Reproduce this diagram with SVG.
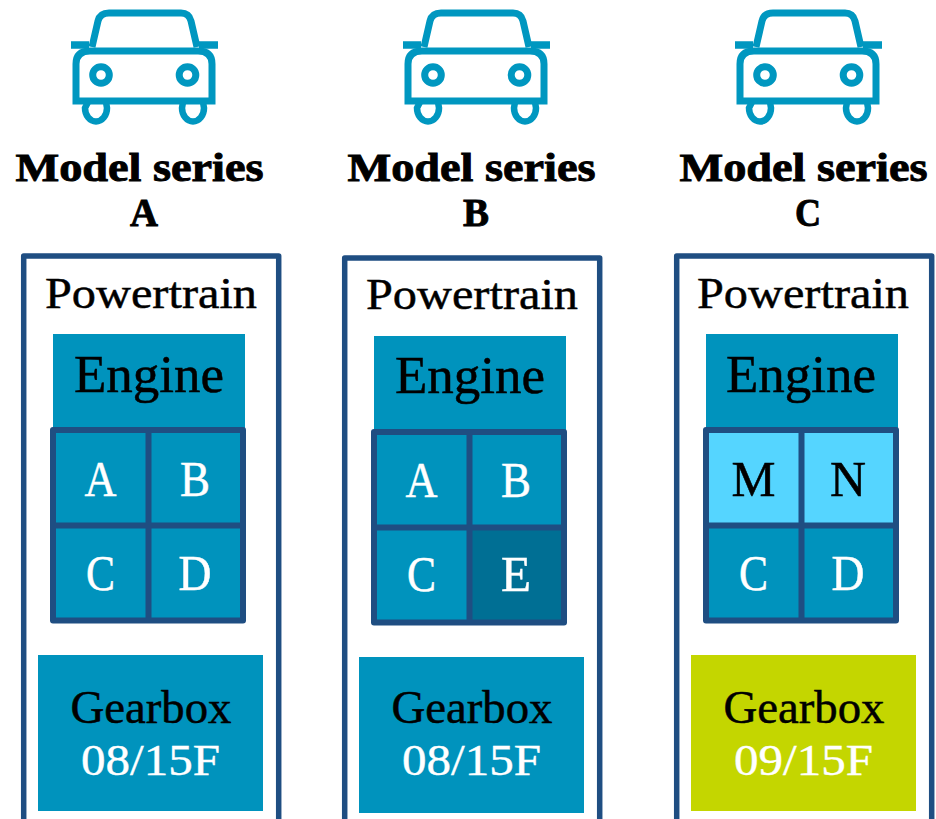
<svg xmlns="http://www.w3.org/2000/svg" width="936" height="819" viewBox="0 0 936 819">
<style>
text{font-family:"Liberation Serif","Times New Roman",serif;text-anchor:middle}
.t{font-weight:bold;font-size:40px;fill:#000;stroke:#000;stroke-width:.9}
.p{font-size:45px;fill:#000;stroke:#000;stroke-width:.5}
.e{font-size:53px;fill:#000;stroke:#000;stroke-width:.5}
.l{font-size:51px;fill:#fff;stroke:#fff;stroke-width:.5}
.lk{font-size:51px;fill:#000;stroke:#000;stroke-width:.5}
.g{font-size:47px;fill:#000;stroke:#000;stroke-width:.5}
.n{font-size:45px;fill:#fff;stroke:#fff;stroke-width:.4}
.box{fill:#fff;stroke:#1f4e82;stroke-width:5.5;stroke-linejoin:round}
.teal{fill:#0093bd}
.grid{fill:none;stroke:#1f4e82;stroke-width:6;stroke-linejoin:round}
.car{fill:none;stroke:#0097c0;stroke-width:7}
</style>
<defs>
<g id="car" class="car">
<path d="M92 47L98 21Q100 13 109 13H181Q189 13 191 21L197 47"/>
<path d="M71 45H89M199 45H218" stroke-width="7.500"/>
<path d="M76 101V64Q76 51 90 51H198Q212 51 212 64V101Z"/>
<circle cx="101" cy="75" r="8.300"/>
<circle cx="187.500" cy="75" r="8.300"/>
<path d="M88 102L85 108A11 13.500 0 0 0 107 108L106 102M183 102L182 108A11 13.500 0 0 0 204 108L203 102" stroke-width="6.500"/>
</g>
</defs>
<rect width="936" height="819" fill="#fff"/>
<g id="series-a">
<use href="#car"/>
<text class="t" x="139.500" y="181" textLength="248" lengthAdjust="spacingAndGlyphs">Model series</text>
<text class="t" x="144" y="226" textLength="28" lengthAdjust="spacingAndGlyphs">A</text>
<rect class="box" x="23.700" y="256" width="255" height="590"/>
<text class="p" x="151" y="308" textLength="212" lengthAdjust="spacingAndGlyphs">Powertrain</text>
<rect class="teal" x="53" y="334" width="192" height="96"/>
<text class="e" x="149" y="391.500" textLength="150" lengthAdjust="spacingAndGlyphs">Engine</text>
<rect class="teal" x="53" y="430" width="190" height="190"/>
<path class="grid" d="M53 430H243V620.500H53ZM148.500 430V620.500M53 525.500H243"/>
<text class="l" x="100.500" y="496" textLength="32" lengthAdjust="spacingAndGlyphs">A</text><text class="l" x="195" y="496" textLength="30" lengthAdjust="spacingAndGlyphs">B</text>
<text class="l" x="100.500" y="590" textLength="29" lengthAdjust="spacingAndGlyphs">C</text><text class="l" x="195" y="590" textLength="33" lengthAdjust="spacingAndGlyphs">D</text>
<rect class="teal" x="38" y="655" width="225" height="156"/>
<text class="g" x="151" y="723" textLength="161" lengthAdjust="spacingAndGlyphs">Gearbox</text>
<text class="n" x="150.500" y="775" textLength="139" lengthAdjust="spacingAndGlyphs">08/15F</text>
</g>
<g id="series-b">
<use href="#car" x="332"/>
<text class="t" x="471.500" y="181" textLength="248" lengthAdjust="spacingAndGlyphs">Model series</text>
<text class="t" x="476" y="226" textLength="26" lengthAdjust="spacingAndGlyphs">B</text>
<rect class="box" x="344.700" y="258" width="255" height="590"/>
<text class="p" x="472" y="309" textLength="212" lengthAdjust="spacingAndGlyphs">Powertrain</text>
<rect class="teal" x="374" y="336" width="192" height="96"/>
<text class="e" x="470" y="392.500" textLength="150" lengthAdjust="spacingAndGlyphs">Engine</text>
<rect class="teal" x="374" y="432" width="190" height="190"/>
<rect x="469.500" y="527" width="94.500" height="95" fill="#006f94"/>
<path class="grid" d="M374 432H564V622.500H374ZM469.500 432V622.500M374 527.500H564"/>
<text class="l" x="421.500" y="497" textLength="32" lengthAdjust="spacingAndGlyphs">A</text><text class="l" x="516" y="497" textLength="30" lengthAdjust="spacingAndGlyphs">B</text>
<text class="l" x="421.500" y="591" textLength="29" lengthAdjust="spacingAndGlyphs">C</text><text class="l" x="516" y="591" textLength="30" lengthAdjust="spacingAndGlyphs">E</text>
<rect class="teal" x="359" y="657" width="225" height="156"/>
<text class="g" x="472" y="723" textLength="161" lengthAdjust="spacingAndGlyphs">Gearbox</text>
<text class="n" x="471.500" y="775" textLength="139" lengthAdjust="spacingAndGlyphs">08/15F</text>
</g>
<g id="series-c">
<use href="#car" x="664"/>
<text class="t" x="803.500" y="181" textLength="248" lengthAdjust="spacingAndGlyphs">Model series</text>
<text class="t" x="808" y="226" textLength="26" lengthAdjust="spacingAndGlyphs">C</text>
<rect class="box" x="676.700" y="256" width="255" height="590"/>
<text class="p" x="803" y="308" textLength="212" lengthAdjust="spacingAndGlyphs">Powertrain</text>
<rect class="teal" x="706" y="334" width="192" height="96"/>
<text class="e" x="801" y="391.500" textLength="150" lengthAdjust="spacingAndGlyphs">Engine</text>
<rect x="706" y="430" width="190" height="95" fill="#55d5ff"/>
<rect class="teal" x="706" y="525" width="190" height="95"/>
<path class="grid" d="M706 430H896V620.500H706ZM801.500 430V620.500M706 525.500H896"/>
<text class="lk" x="753.500" y="496" textLength="44" lengthAdjust="spacingAndGlyphs">M</text><text class="lk" x="848" y="496" textLength="36" lengthAdjust="spacingAndGlyphs">N</text>
<text class="l" x="753.500" y="590" textLength="29" lengthAdjust="spacingAndGlyphs">C</text><text class="l" x="848" y="590" textLength="33" lengthAdjust="spacingAndGlyphs">D</text>
<rect x="691" y="655" width="225" height="156" fill="#c4d600"/>
<text class="g" x="804" y="723" textLength="161" lengthAdjust="spacingAndGlyphs">Gearbox</text>
<text class="n" x="803.500" y="775" textLength="139" lengthAdjust="spacingAndGlyphs">09/15F</text>
</g>
</svg>
